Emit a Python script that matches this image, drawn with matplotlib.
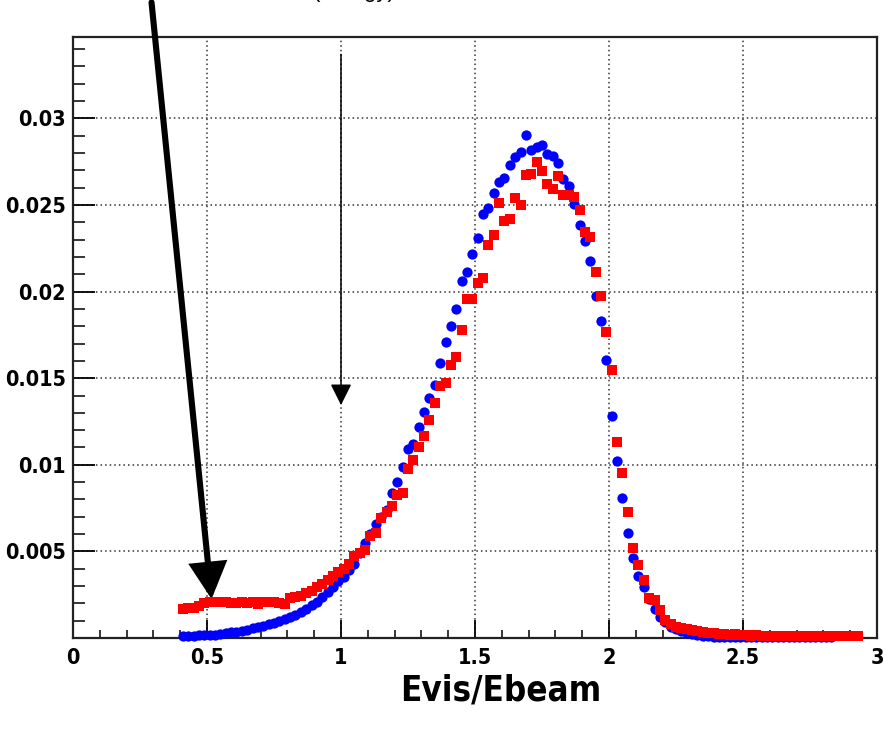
import numpy as np
import matplotlib
matplotlib.use("Agg")
import matplotlib.pyplot as plt
from matplotlib import font_manager

plt.rcParams['font.family'] = ['Liberation Sans', 'DejaVu Sans']

# ---- data (values x 1e-3), bins of width 0.02 starting at 0.41 ----
x_start = 0.41
bin_width = 0.02

blue_vals = [
    0.10, 0.10, 0.12, 0.15, 0.17, 0.18, 0.20, 0.23, 0.27, 0.32,   # 0.41-0.59
    0.37, 0.42, 0.48, 0.55, 0.62, 0.70, 0.80, 0.88, 0.98, 1.08,   # 0.61-0.79
    1.20, 1.35, 1.50, 1.68, 1.88, 2.10, 2.35, 2.65, 2.95, 3.30,   # 0.81-0.99
    3.55, 3.95, 4.30, 4.90, 5.50, 6.00, 6.60, 7.00, 7.40, 8.40,   # 1.01-1.19
    9.00, 9.85, 10.9, 11.2, 12.2, 13.05, 13.85, 14.6, 15.85, 17.1,  # 1.21-1.39
    18.0, 19.0, 20.6, 21.15, 22.15, 23.1, 24.5, 24.8, 25.7, 26.3,  # 1.41-1.59
    26.55, 27.3, 27.8, 28.05, 29.05, 28.2, 28.35, 28.45, 27.95, 27.85,  # 1.61-1.79
    27.4, 26.5, 26.1, 25.05, 23.85, 22.95, 21.75, 19.75, 18.3, 16.05,  # 1.81-1.99
    12.8, 10.2, 8.1, 6.05, 4.6, 3.6, 2.95, 2.25, 1.65, 1.2,        # 2.01-2.19
    0.9, 0.65, 0.5, 0.38, 0.3, 0.22, 0.17, 0.13, 0.10, 0.08,      # 2.21-2.39
    0.07, 0.06, 0.06, 0.05, 0.06, 0.05, 0.05, 0.06, 0.05, 0.05,   # 2.41-2.59
    0.05, 0.04, 0.05, 0.05, 0.04, 0.05, 0.04, 0.05, 0.04, 0.05,   # 2.61-2.79
    0.04, 0.05,                                                   # 2.81-2.83
]

red_vals = [
    1.65, 1.75, 1.75, 1.85, 2.00, 2.05, 2.10, 2.05, 2.10, 2.00,   # 0.41-0.59
    2.00, 2.05, 2.00, 2.05, 1.95, 2.05, 2.10, 2.05, 2.00, 1.95,   # 0.61-0.79
    2.30, 2.35, 2.45, 2.60, 2.70, 2.95, 3.10, 3.35, 3.60, 3.80,   # 0.81-0.99
    4.00, 4.30, 4.75, 4.90, 5.10, 5.90, 6.05, 6.90, 7.25, 7.65,   # 1.01-1.19
    8.25, 8.40, 9.75, 10.3, 11.0, 11.65, 12.6, 13.55, 14.55, 14.75,  # 1.21-1.39
    15.75, 16.25, 17.8, 19.55, 19.55, 20.5, 20.8, 22.7, 23.25, 25.1,  # 1.41-1.59
    24.05, 24.2, 25.4, 25.0, 26.75, 26.8, 27.5, 26.95, 26.2, 25.9,   # 1.61-1.79
    26.7, 25.6, 25.6, 25.45, 24.7, 23.45, 23.15, 21.15, 19.75, 17.65,  # 1.81-1.99
    15.5, 11.3, 9.55, 7.3, 5.2, 4.2, 3.35, 2.3, 2.2, 1.6,          # 2.01-2.19
    1.05, 0.80, 0.66, 0.58, 0.52, 0.45, 0.41, 0.35, 0.30, 0.27,   # 2.21-2.39
    0.22, 0.21, 0.20, 0.22, 0.18, 0.15, 0.14, 0.15, 0.13, 0.14,   # 2.41-2.59
    0.13, 0.14, 0.13, 0.12, 0.14, 0.13, 0.12, 0.13, 0.12, 0.13,   # 2.61-2.79
    0.12, 0.13, 0.12, 0.14, 0.12, 0.13, 0.12,                     # 2.81-2.93
]

x_ticks = [0, 0.5, 1, 1.5, 2, 2.5, 3]
x_tick_labels = ["0", "0.5", "1", "1.5", "2", "2.5", "3"]
y_ticks = [0.005, 0.01, 0.015, 0.02, 0.025, 0.03]
y_tick_labels = ["0.005", "0.01", "0.015", "0.02", "0.025", "0.03"]
x_label = "Evis/Ebeam"

blue_x = x_start + bin_width * np.arange(len(blue_vals))
red_x = x_start + bin_width * np.arange(len(red_vals))
blue_y = np.array(blue_vals) * 1e-3
red_y = np.array(red_vals) * 1e-3

# condensed bold font if available
cond_family = None
for f in font_manager.fontManager.ttflist:
    fn = f.fname.lower()
    if ('condensed' in fn or 'narrow' in fn) and 'bold' in fn and 'oblique' not in fn and 'italic' not in fn:
        cond_family = f.fname
        break

# ---- figure ----
fig = plt.figure(figsize=(8.86, 7.32), dpi=100)
ax = fig.add_axes([73/886, (732-638)/732, (877-73)/886, (638-37)/732])

ax.plot(blue_x, blue_y, linestyle='none', marker='o', ms=7.4,
        color='#0000ff', markeredgewidth=0, zorder=3, clip_on=False)
ax.plot(red_x, red_y, linestyle='none', marker='s', ms=7.4,
        color='#ff0000', markeredgewidth=0, zorder=4, clip_on=False)

ax.set_xlim(0, 3)
ax.set_ylim(0, 0.0347)

ax.set_xticks(x_ticks)
ax.set_xticklabels(x_tick_labels)
ax.set_xticks(np.arange(0, 3.0001, 0.1), minor=True)
ax.set_yticks(y_ticks)
ax.set_yticklabels(y_tick_labels)
ax.set_yticks(np.arange(0.001, 0.0347, 0.001), minor=True)

ax.tick_params(axis='x', which='major', direction='in', length=13, width=1.3,
               labelsize=15, pad=7, top=False)
ax.tick_params(axis='x', which='minor', direction='in', length=5.5, width=1.1, top=False)
ax.tick_params(axis='y', which='major', direction='in', length=16, width=1.3,
               labelsize=15, pad=5, right=False)
ax.tick_params(axis='y', which='minor', direction='in', length=8.5, width=1.1, right=False)

if cond_family:
    fp = font_manager.FontProperties(fname=cond_family)
    for lab in ax.get_xticklabels() + ax.get_yticklabels():
        lab.set_fontproperties(fp)
        lab.set_fontsize(15.5)
else:
    for lab in ax.get_xticklabels() + ax.get_yticklabels():
        lab.set_fontweight('bold')
        lab.set_fontsize(15)

ax.grid(True, which='major', color='#333333', linestyle=(0, (1, 2)), linewidth=1.1)
ax.set_axisbelow(True)
for sp in ax.spines.values():
    sp.set_linewidth(1.6)
    sp.set_color('#222222')

label_x = (501 - 73) / 804
if cond_family:
    xl = ax.set_xlabel(x_label, labelpad=4, x=label_x)
    xl.set_fontproperties(font_manager.FontProperties(fname=cond_family))
    xl.set_fontsize(25)
else:
    ax.set_xlabel(x_label, fontsize=22, fontweight='bold', labelpad=4, x=label_x)

# thin arrow
ax.annotate('', xy=(1.0, 0.01345), xytext=(1.0, 0.0337),
            xycoords='data', textcoords='data', annotation_clip=False,
            arrowprops=dict(arrowstyle='-|>,head_length=13,head_width=6.5',
                            mutation_scale=1, lw=1.1, color='black',
                            shrinkA=0, shrinkB=0))
# thick arrow
ax.annotate('', xy=(0.517, 0.00225), xytext=(0.293, 0.0367),
            xycoords='data', textcoords='data', annotation_clip=False,
            arrowprops=dict(arrowstyle='-|>,head_length=20,head_width=10.5',
                            mutation_scale=1, lw=4.4, color='black',
                            shrinkA=0, shrinkB=0, joinstyle='miter'))

# partially cut-off title at the very top (as in the reference)
fig.text(0.40, 0.997, "(energy)", ha='center', va='bottom', fontsize=16)

fig.savefig("out.png", dpi=100)
